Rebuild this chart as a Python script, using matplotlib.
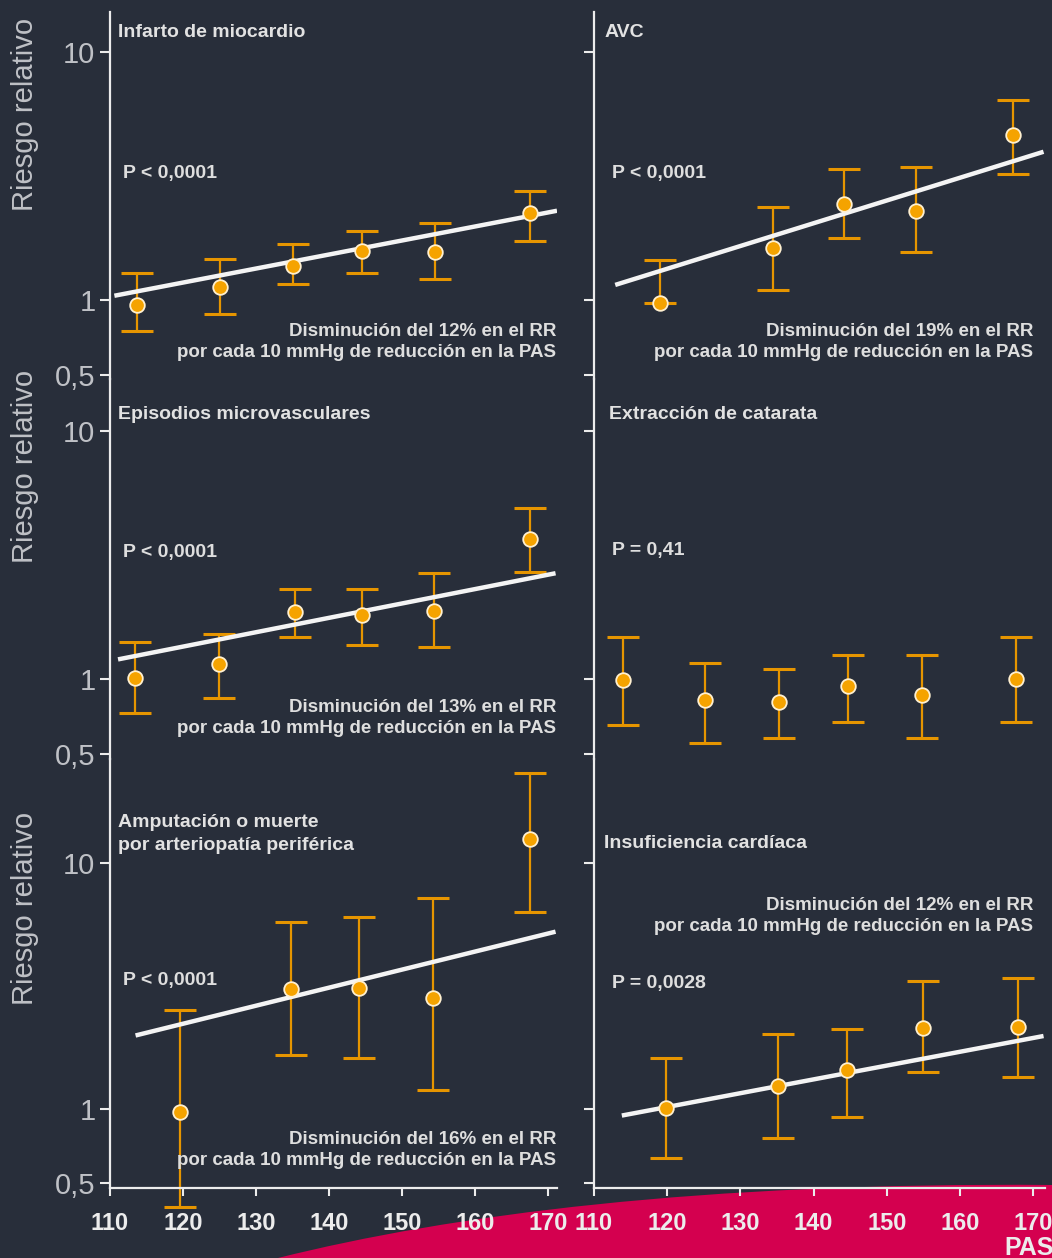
import numpy as np
import matplotlib.pyplot as plt
from matplotlib.path import Path
from matplotlib.patches import PathPatch
from matplotlib.ticker import FixedLocator, NullLocator

W, H = 1052, 1258
FONDO = '#282e3a'
NARANJA = '#f5a300'
BARRA = '#e69500'
ROSA = '#d4004f'
GRIS = '#bfc1c6'
BLANCO = '#ececec'

SANS = ['Liberation Sans', 'DejaVu Sans']
NARROW = ['Liberation Sans Narrow', 'Liberation Sans', 'DejaVu Sans']

# Datos: PAS media del grupo, RR y limites del IC 95%
titulos = [['Infarto de miocardio'], ['AVC'],
           ['Episodios microvasculares'], ['Extracción de catarata'],
           ['Amputación o muerte', 'por arteriopatía periférica'], ['Insuficiencia cardíaca']]
textos_p = ['P < 0,0001', 'P < 0,0001', 'P < 0,0001', 'P = 0,41', 'P < 0,0001', 'P = 0,0028']
disminucion = [12, 19, 13, None, 16, 12]

pas_im = [113.7, 125.0, 135.1, 144.5, 154.5, 167.5]
rr_im = [0.95, 1.13, 1.37, 1.58, 1.56, 2.24]
inf_im = [0.75, 0.88, 1.16, 1.28, 1.22, 1.73]
sup_im = [1.28, 1.46, 1.68, 1.90, 2.05, 2.75]

pas_avc = [119.0, 134.5, 144.1, 154.0, 167.2]
rr_avc = [0.975, 1.62, 2.44, 2.29, 4.63]
inf_avc = [0.97, 1.10, 1.77, 1.56, 3.21]
sup_avc = [1.45, 2.38, 3.37, 3.45, 6.40]

pas_micro = [113.4, 124.9, 135.3, 144.5, 154.4, 167.5]
rr_micro = [1.01, 1.15, 1.86, 1.81, 1.88, 3.67]
inf_micro = [0.73, 0.84, 1.48, 1.37, 1.35, 2.69]
sup_micro = [1.41, 1.52, 2.31, 2.31, 2.68, 4.88]

pas_cat = [114.0, 125.2, 135.3, 144.7, 154.8, 167.7]
rr_cat = [0.99, 0.82, 0.81, 0.94, 0.86, 1.00]
inf_cat = [0.65, 0.55, 0.58, 0.67, 0.58, 0.67]
sup_cat = [1.48, 1.16, 1.10, 1.25, 1.25, 1.48]

pas_amp = [119.6, 134.8, 144.1, 154.2, 167.5]
rr_amp = [0.97, 3.08, 3.11, 2.83, 12.5]
inf_amp = [0.40, 1.65, 1.61, 1.19, 6.34]
sup_amp = [2.53, 5.74, 6.05, 7.23, 23.3]

pas_ic = [119.9, 135.2, 144.6, 154.9, 167.9]
rr_ic = [1.01, 1.24, 1.44, 2.13, 2.16]
inf_ic = [0.63, 0.76, 0.93, 1.42, 1.35]
sup_ic = [1.61, 2.01, 2.12, 3.32, 3.40]

# Rectas de regresion (extremos en PAS y RR)
recta_pas = [(110.6, 171.2), (112.9, 171.4), (111.1, 171.0), None, (113.5, 171.0), (113.8, 171.4)]
recta_rr = [(1.04, 2.29), (1.15, 3.96), (1.20, 2.67), None, (1.99, 5.26), (0.94, 1.98)]

pas = [pas_im, pas_avc, pas_micro, pas_cat, pas_amp, pas_ic]
rr = [rr_im, rr_avc, rr_micro, rr_cat, rr_amp, rr_ic]
inf = [inf_im, inf_avc, inf_micro, inf_cat, inf_amp, inf_ic]
sup = [sup_im, sup_avc, sup_micro, sup_cat, sup_amp, sup_ic]

ticks_x = [110, 120, 130, 140, 150, 160, 170]
ticks_y = [0.5, 1, 10]
etiq_y = ['0,5', '1', '10']

# Geometria en pixeles (origen arriba a la izquierda)
filas_px = [(12, 379), (379, 759), (759, 1188)]
cols_px = [(110, 557), (594, 1045)]
ylims = [(0.480, 14.5), (0.476, 16.2), (0.477, 26.5)]
xlims = [(110, 171.2), (110, 171.6)]

# posiciones de los textos de cada panel
tit_xy = [(118, 37), (605, 37), (118, 419), (609, 419), (118, 827), (604, 848)]
p_xy = [(123, 178), (612, 178), (123, 557), (612, 555), (123, 985), (612, 988)]
dis_xy = [(556, 336), (1033, 336), (556, 712), None, (556, 1144), (1033, 910)]
ylab_y = [114, 466, 908]


def fx(x):
    return x / W


def fy(y):
    return 1 - y / H


fig = plt.figure(figsize=(W / 100, H / 100), dpi=100, facecolor=FONDO)

# franja rosa de abajo a la derecha
verts = [(278, 1258), (450, 1215), (700, 1182), (1052, 1185), (1052, 1258), (278, 1258)]
codes = [Path.MOVETO, Path.CURVE4, Path.CURVE4, Path.CURVE4, Path.LINETO, Path.CLOSEPOLY]
franja = PathPatch(Path([(fx(a), fy(b)) for a, b in verts], codes),
                   transform=fig.transFigure, facecolor=ROSA, edgecolor='none', zorder=-1)
fig.patches.append(franja)

for k in range(6):
    f, c = k // 2, k % 2
    x0, x1 = cols_px[c]
    y0, y1 = filas_px[f]
    ax = fig.add_axes([fx(x0), fy(y1), (x1 - x0) / W, (y1 - y0) / H])
    ax.set_facecolor('none')
    ax.set_yscale('log')
    ax.set_xlim(*xlims[c])
    ax.set_ylim(*ylims[f])

    for lado in ['top', 'right']:
        ax.spines[lado].set_visible(False)
    ax.spines['left'].set_color(BLANCO)
    ax.spines['left'].set_linewidth(1.6)
    ax.spines['bottom'].set_color(BLANCO)
    ax.spines['bottom'].set_linewidth(1.6)
    ax.spines['bottom'].set_visible(f == 2)

    ax.yaxis.set_major_locator(FixedLocator(ticks_y))
    ax.yaxis.set_minor_locator(NullLocator())
    ax.set_yticklabels(etiq_y if c == 0 else [''] * 3)
    ax.tick_params(axis='y', which='major', length=7, width=1.5, color=BLANCO, pad=3.5,
                   labelsize=21, labelcolor=GRIS)
    for t in ax.get_yticklabels():
        t.set_fontfamily(SANS)

    if f == 2:
        ax.set_xticks(ticks_x)
        ax.set_xticklabels([str(v) for v in ticks_x])
        ax.tick_params(axis='x', length=6, width=1.5, color=BLANCO, pad=11,
                       labelsize=17, labelcolor=BLANCO)
        for t in ax.get_xticklabels():
            t.set_fontfamily(NARROW)
            t.set_fontweight('bold')
    else:
        ax.tick_params(axis='x', bottom=False, labelbottom=False)

    x = np.array(pas[k])
    y = np.array(rr[k])
    lo = np.array(inf[k])
    hi = np.array(sup[k])
    eb = ax.errorbar(x, y, yerr=[y - lo, hi - y], fmt='none', ecolor=BARRA,
                     elinewidth=1.6, capsize=11.5, capthick=2.2, zorder=2)
    for parte in eb.get_children():
        parte.set_clip_on(False)

    if recta_pas[k] is not None:
        ax.plot(recta_pas[k], recta_rr[k], color='#f4f4f4', lw=3.2,
                solid_capstyle='butt', zorder=3)

    ax.plot(x, y, 'o', ms=10.5, mfc=NARANJA, mec='#fff0d0', mew=1.3,
            zorder=4, clip_on=False)

    # textos del panel
    tx, ty = tit_xy[k]
    for i, linea in enumerate(titulos[k]):
        fig.text(fx(tx), fy(ty + 23 * i), linea, ha='left', va='baseline', fontsize=14,
                 fontweight='bold', color='#e2e2e2', family=SANS)
    px_, py_ = p_xy[k]
    fig.text(fx(px_), fy(py_), textos_p[k], ha='left', va='baseline', fontsize=14,
             fontweight='bold', color='#dedede', family=SANS)
    if disminucion[k] is not None:
        dx, dy = dis_xy[k]
        fig.text(fx(dx), fy(dy), 'Disminución del %d%% en el RR' % disminucion[k],
                 ha='right', va='baseline', fontsize=13.5, fontweight='bold',
                 color='#dedede', family=SANS)
        fig.text(fx(dx), fy(dy + 21), 'por cada 10 mmHg de reducción en la PAS',
                 ha='right', va='baseline', fontsize=13.5, fontweight='bold',
                 color='#dedede', family=SANS)

for yl in ylab_y:
    fig.text(fx(25), fy(yl), 'Riesgo relativo', rotation=90, ha='center', va='center',
             fontsize=21, color=GRIS, family=SANS)

fig.text(fx(1054), fy(1255), 'PAS', ha='right', va='baseline', fontsize=18,
         fontweight='bold', color=BLANCO, family=NARROW)

fig.savefig('out.png', dpi=100, facecolor=FONDO)
